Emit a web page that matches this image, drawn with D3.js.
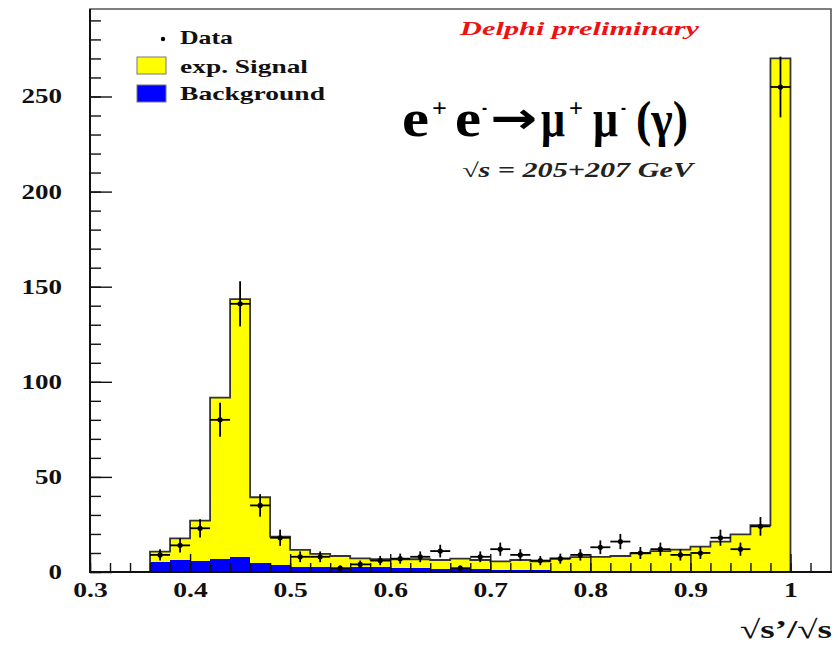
<!DOCTYPE html>
<html>
<head>
<meta charset="utf-8">
<script src="https://cdn.jsdelivr.net/npm/d3@7"></script>
<style>
  body { margin: 0; background: #fff; }
  svg { display: block; }
  text { font-family: "Liberation Serif", "DejaVu Serif", serif; font-weight: bold; }
</style>
</head>
<body>
<svg id="chart" width="833" height="645"></svg>
<script>
// Histogram bins of sqrt(s')/sqrt(s): lower edges, width 0.02
const binLow = [0.36, 0.38, 0.40, 0.42, 0.44, 0.46, 0.48, 0.50, 0.52, 0.54, 0.56, 0.58,
                0.60, 0.62, 0.64, 0.66, 0.68, 0.70, 0.72, 0.74, 0.76, 0.78, 0.80, 0.82,
                0.84, 0.86, 0.88, 0.90, 0.92, 0.94, 0.96, 0.98];
const binWidth = 0.02;

// Observed events per bin
const dataCounts = [9, 14, 23, 80, 141, 35, 18, 8, 8, 2, 4, 6,
                    7, 8, 11, 2, 8, 12, 9, 6, 7, 9, 13, 16,
                    10, 12, 9, 10, 18, 12, 24, 255];

// Expected background per bin
const background = [5.4, 6.3, 5.6, 6.7, 8.0, 4.5, 3.7, 2.8, 2.5, 2.3, 2.5, 2.5,
                    2.3, 2.2, 1.6, 2.0, 1.8, 1.2, 1.0, 0.9, 0.7, 0.5, 0.4, 0.2,
                    0.2, 0.2, 0.2, 0.2, 0.2, 0.2, 0.2, 0.1];

// Expected signal per bin (stacked on top of the background)
const signal = [5.3, 11.4, 21.4, 85.0, 135.5, 34.8, 14.9, 8.8, 7.0, 6.1, 4.7, 4.2,
                4.4, 4.5, 4.7, 5.0, 4.5, 4.4, 5.3, 4.7, 6.5, 7.3, 7.6, 8.2,
                9.6, 10.8, 11.6, 13.1, 15.8, 19.6, 24.4, 269.9];

const xTickValues = [0.3, 0.4, 0.5, 0.6, 0.7, 0.8, 0.9, 1.0];
const xTickLabels = ["0.3", "0.4", "0.5", "0.6", "0.7", "0.8", "0.9", "1"];
const yTickValues = [0, 50, 100, 150, 200, 250];
const yTickLabels = ["0", "50", "100", "150", "200", "250"];

const legendEntries = ["Data", "exp. Signal", "Background"];

const svg = d3.select("#chart");
const plotLeft = 90, plotRight = 830.5, plotTop = 9, plotBottom = 572;

const x = d3.scaleLinear().domain([0.3, 1.04]).range([plotLeft, plotRight]);
const y = d3.scaleLinear().domain([0, 296]).range([plotBottom, plotTop]);

const rows = binLow.map((lo, i) => ({ lo, background: background[i], signal: signal[i], n: dataCounts[i] }));
const stacked = d3.stack().keys(["background", "signal"])(rows);
const bkgLayer = stacked[0], sigLayer = stacked[1];

// Filled bins: yellow total first, blue background over it
svg.append("g").selectAll("rect").data(sigLayer).join("rect")
  .attr("x", d => x(d.data.lo))
  .attr("width", d => x(d.data.lo + binWidth) - x(d.data.lo))
  .attr("y", d => y(d[1]))
  .attr("height", d => y(0) - y(d[1]))
  .attr("fill", "#ffff00")
  .attr("shape-rendering", "crispEdges");

svg.append("g").selectAll("rect").data(bkgLayer).join("rect")
  .attr("x", d => x(d.data.lo))
  .attr("width", d => x(d.data.lo + binWidth) - x(d.data.lo))
  .attr("y", d => y(d[1]))
  .attr("height", d => y(0) - y(d[1]))
  .attr("fill", "#0000ff")
  .attr("shape-rendering", "crispEdges");

// Step outline of the total expectation
const outlinePts = [[binLow[0], 0]];
sigLayer.forEach(d => { outlinePts.push([d.data.lo, d[1]]); outlinePts.push([d.data.lo + binWidth, d[1]]); });
outlinePts.push([binLow[binLow.length - 1] + binWidth, 0]);
svg.append("path")
  .attr("d", d3.line().x(p => x(p[0])).y(p => y(p[1]))(outlinePts))
  .attr("fill", "none").attr("stroke", "#333").attr("stroke-width", 1.8);

// Data with statistical errors
const pts = svg.append("g").attr("stroke", "#000").attr("stroke-width", 1.8);
rows.forEach(r => {
  const e = Math.sqrt(r.n);
  const cx = x(r.lo + binWidth / 2);
  pts.append("line").attr("x1", cx).attr("x2", cx).attr("y1", y(r.n - e)).attr("y2", y(r.n + e));
  pts.append("line").attr("x1", x(r.lo)).attr("x2", x(r.lo + binWidth)).attr("y1", y(r.n)).attr("y2", y(r.n));
});
svg.append("g").selectAll("circle").data(rows).join("circle")
  .attr("cx", r => x(r.lo + binWidth / 2)).attr("cy", r => y(r.n)).attr("r", 2.6).attr("fill", "#000");

// Axes: minor and major ticks pointing inwards
const xMinor = svg.append("g").attr("transform", `translate(0,${plotBottom})`)
  .call(d3.axisBottom(x).tickValues(d3.range(15, 52, 1).map(k => k / 50)).tickSize(-9).tickFormat(""));
const xMajor = svg.append("g").attr("transform", `translate(0,${plotBottom})`)
  .call(d3.axisBottom(x).tickValues(xTickValues).tickSize(-18).tickPadding(11)
    .tickFormat((d, i) => xTickLabels[i]));
const yMinor = svg.append("g").attr("transform", `translate(${plotLeft},0)`)
  .call(d3.axisLeft(y).tickValues(d3.range(0, 300, 10)).tickSize(-11).tickFormat(""));
const yMajor = svg.append("g").attr("transform", `translate(${plotLeft},0)`)
  .call(d3.axisLeft(y).tickValues(yTickValues).tickSize(-22).tickPadding(28)
    .tickFormat((d, i) => yTickLabels[i]));

[xMinor, xMajor, yMinor, yMajor].forEach(g => {
  g.select(".domain").remove();
  g.selectAll(".tick line").attr("stroke", "#111").attr("stroke-width", 1.4);
});

xMajor.selectAll(".tick text")
  .attr("font-size", 20).attr("fill", "#111")
  .attr("transform", "scale(1.38,1)");
yMajor.selectAll(".tick text")
  .attr("font-size", 20).attr("fill", "#111")
  .attr("x", 0)
  .attr("transform", "translate(-28,0) scale(1.35,1)");

// Frame
svg.append("path")
  .attr("d", `M${plotLeft},${plotBottom}V${plotTop}H${831}V${plotBottom}`)
  .attr("fill", "none").attr("stroke", "#555").attr("stroke-width", 1.6);
svg.append("line").attr("x1", plotLeft).attr("x2", plotLeft).attr("y1", plotTop).attr("y2", plotBottom)
  .attr("stroke", "#111").attr("stroke-width", 2);
svg.append("line").attr("x1", plotLeft - 1).attr("x2", 832).attr("y1", plotBottom).attr("y2", plotBottom)
  .attr("stroke", "#111").attr("stroke-width", 2);

// Legend
const lg = svg.append("g");
lg.append("circle").attr("cx", 163).attr("cy", 39).attr("r", 2.2).attr("fill", "#000");
lg.append("rect").attr("x", 137).attr("y", 57).attr("width", 29).attr("height", 17)
  .attr("fill", "#ffff00").attr("stroke", "#777").attr("stroke-width", 1);
lg.append("rect").attr("x", 137).attr("y", 85).attr("width", 29).attr("height", 17)
  .attr("fill", "#0000ff").attr("stroke", "#777").attr("stroke-width", 1);
const legendBase = [44, 73, 100];
const legendLen = [53, 128, 145];
legendEntries.forEach((t, i) => {
  lg.append("text").attr("x", 180).attr("y", legendBase[i])
    .attr("font-size", 19).attr("fill", "#111")
    .attr("textLength", legendLen[i]).attr("lengthAdjust", "spacingAndGlyphs")
    .text(t);
});

// Experiment tag
svg.append("text").attr("x", 460).attr("y", 35)
  .attr("font-size", 19).attr("font-style", "italic").attr("fill", "#ee1111")
  .attr("textLength", 239).attr("lengthAdjust", "spacingAndGlyphs")
  .text("Delphi preliminary");

// Process label, built from its symbols with raised charge signs
const procParts = [
  { t: "e",        x: 402, y: 136, s: 52, w: 27 },
  { t: "+",        x: 432, y: 117, s: 26, w: 15 },
  { t: "e",        x: 455, y: 136, s: 52, w: 26 },
  { t: "-",        x: 482, y: 115, s: 26, w: 5 },
  { t: "\u2192",   x: 490, y: 133, s: 44, w: 47, f: "'DejaVu Sans', sans-serif" },
  { t: "\u03bc",   x: 541, y: 136, s: 52, w: 24 },
  { t: "+",        x: 569, y: 117, s: 26, w: 14 },
  { t: "\u03bc",   x: 593, y: 136, s: 52, w: 25 },
  { t: "-",        x: 621, y: 115, s: 26, w: 5 },
  { t: "(\u03b3)", x: 636, y: 136, s: 50, w: 52 }
];
const proc = svg.append("g");
procParts.forEach(p => {
  proc.append("text").attr("x", p.x).attr("y", p.y)
    .attr("font-size", p.s).attr("fill", "#000")
    .style("font-family", p.f || "'Liberation Serif', 'DejaVu Serif', serif")
    .attr("textLength", p.w).attr("lengthAdjust", "spacingAndGlyphs")
    .text(p.t);
});

// Centre-of-mass energy
svg.append("text").attr("x", 462).attr("y", 177)
  .attr("font-size", 20).attr("font-style", "italic").attr("fill", "#222")
  .attr("textLength", 231).attr("lengthAdjust", "spacingAndGlyphs")
  .text("\u221as = 205+207 GeV");

// Axis title
svg.append("text").attr("x", 832).attr("y", 638).attr("text-anchor", "end")
  .attr("font-size", 26).attr("fill", "#111")
  .attr("textLength", 92).attr("lengthAdjust", "spacingAndGlyphs")
  .text("\u221as\u2019/\u221as");
</script>
</body>
</html>
